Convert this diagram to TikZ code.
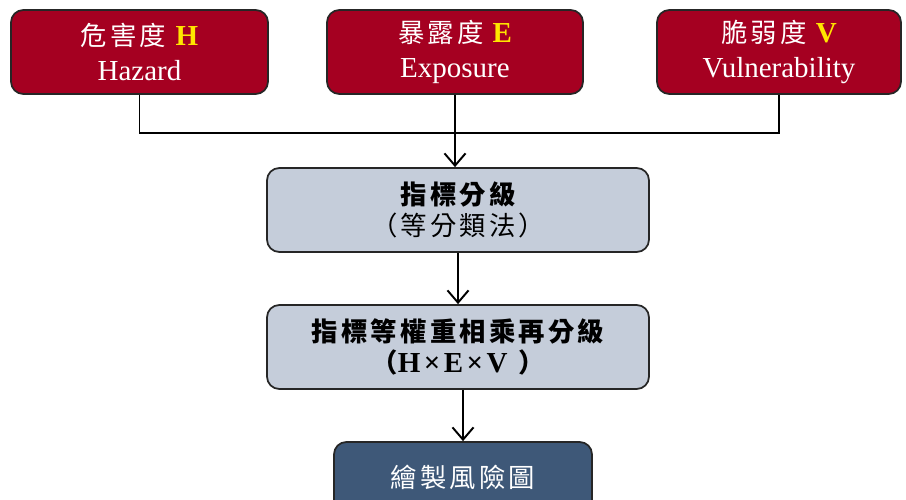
\documentclass[tikz,border=0pt]{standalone}
\usepackage{fontspec}
\setmainfont{Liberation Serif}
\newfontfamily\cjk[LetterSpace=12]{Noto Sans CJK TC}
\usetikzlibrary{arrows.meta,positioning}
\definecolor{riskred}{RGB}{165,0,33}
\definecolor{steelgray}{RGB}{197,205,218}
\definecolor{navyslate}{RGB}{62,88,120}
\definecolor{hlyellow}{RGB}{255,230,0}
\newcommand{\latin}[1]{{\fontsize{16.5}{20}\selectfont #1}}
\tikzset{
  factor/.style={draw=black!85,line width=1pt,rounded corners=7pt,fill=riskred,text=white,
    minimum width=5.14cm,minimum height=1.68cm,align=center,font=\fontsize{15}{20}\selectfont},
  stage/.style={factor,fill=steelgray,text=black,minimum width=7.64cm,font=\fontsize{15}{18}\selectfont\bfseries},
  result/.style={factor,fill=navyslate,text=white,minimum width=5.16cm,minimum height=1.4cm},
  flow/.style={line width=1.1pt,-{Straight Barb[length=7pt,width=12pt,line width=1.1pt]}}
}

\begin{document}
\begin{tikzpicture}
        \useasboundingbox (0,0) rectangle (18.12,9.98);
        \node[factor] (haz) at (2.79,8.94) {{\cjk 危害度}\hspace{0.35em}\latin{\bfseries\color{hlyellow}H}\\\latin{Hazard}};
        \node[factor,minimum width=5.12cm] (exp) at (9.10,8.94) {{\cjk 暴露度}\hspace{0.35em}\latin{\bfseries\color{hlyellow}E}\\\latin{Exposure}};
        \node[factor,minimum width=4.88cm] (vul) at (15.58,8.94) {{\cjk 脆弱度}\hspace{0.35em}\latin{\bfseries\color{hlyellow}V}\\\latin{Vulnerability}};
        \node[stage] (grade) at (9.16,5.78) {{\cjk 指標分級}\\{\cjk\mdseries （等分類法）}};
        \node[stage] (mult) at (9.16,3.04) {{\cjk 指標等權重相乘再分級}\\{\cjk （}\latin{H\hspace{2pt}×\hspace{2pt}E\hspace{2pt}×\hspace{2pt}V}\hspace{6pt}{\cjk ）}};
        \node[result] (map) at (9.26,0.44) {\cjk 繪製風險圖};
        \coordinate (jn) at (9.10,7.32);
        \draw[line width=1.1pt] (haz.south) |- (jn) -| (vul.south);
        \draw[flow] (exp.south) -- (grade.north -| exp.south);
        \draw[flow] (grade.south -| mult.north) -- (mult.north);
        \draw[flow] (mult.south -| map.north) -- (map.north);
      \end{tikzpicture}
\end{document}
